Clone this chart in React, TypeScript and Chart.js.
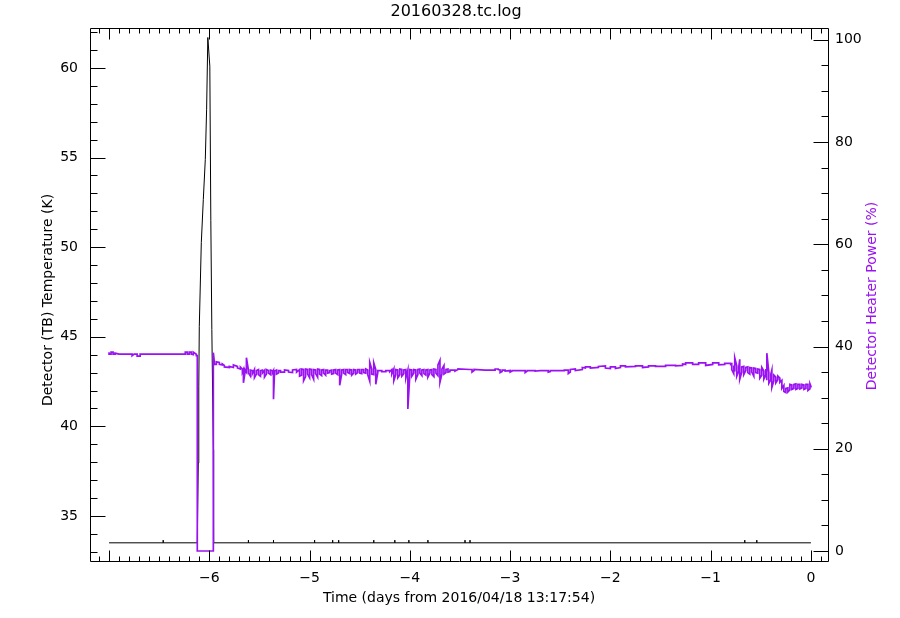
import React, { useEffect, useRef } from "react";
import { Chart, registerables } from "chart.js";

Chart.register(...registerables);

const titleText = "20160328.tc.log";
const xTitle = "Time (days from 2016/04/18 13:17:54)";
const yLeftTitle = "Detector (TB) Temperature (K)";
const yRightTitle = "Detector Heater Power (%)";

const xTickValues = [-6, -5, -4, -3, -2, -1, 0];
const xTickLabels = ["\u22126", "\u22125", "\u22124", "\u22123", "\u22122", "\u22121", "0"];
const leftTickValues = [35, 40, 45, 50, 55, 60];
const rightTickValues = [0, 20, 40, 60, 80, 100];

// Detector temperature (K), left axis
const tempDays = [
  -7.0, -6.46, -6.46, -6.46, -6.12, -6.11, -6.105, -6.1, -6.08, -6.06, -6.04, -6.027, -6.015,
  -5.995, -5.985, -5.975, -5.96, -5.96, -5.955, -5.61, -5.61, -5.61, -5.36, -5.36, -5.36,
  -4.95, -4.95, -4.95, -4.77, -4.77, -4.77, -4.71, -4.71, -4.71, -4.36, -4.36, -4.36,
  -4.15, -4.15, -4.15, -4.01, -4.01, -4.01, -3.82, -3.82, -3.82, -3.45, -3.45, -3.45,
  -3.4, -3.4, -3.4, -0.66, -0.66, -0.66, -0.54, -0.54, -0.54, 0.0,
];
const tempK = [
  33.5, 33.5, 33.65, 33.5, 33.5, 37.96, 42.2, 45.56, 50.25, 52.65, 54.9, 57.7, 61.7,
  60.1, 51.5, 45.4, 38.7, 34.2, 33.5, 33.5, 33.65, 33.5, 33.5, 33.65, 33.5,
  33.5, 33.65, 33.5, 33.5, 33.65, 33.5, 33.5, 33.65, 33.5, 33.5, 33.65, 33.5,
  33.5, 33.65, 33.5, 33.5, 33.65, 33.5, 33.5, 33.65, 33.5, 33.5, 33.65, 33.5,
  33.5, 33.65, 33.5, 33.5, 33.65, 33.5, 33.5, 33.65, 33.5, 33.5,
];

// Detector heater power (%), right axis: per-sample day, min and max
const powerDays = [
  -7.0, -6.98, -6.96, -6.94, -6.9, -6.8, -6.77, -6.75, -6.72, -6.69, -6.67, -6.4, -6.25, -6.24,
  -6.22, -6.2, -6.18, -6.16, -6.13, -6.12, -5.96, -5.95, -5.93, -5.9, -5.87, -5.85, -5.8,
  -5.76, -5.72, -5.69, -5.67, -5.66, -5.645, -5.63, -5.61, -5.59, -5.57, -5.55, -5.53, -5.51,
  -5.49, -5.47, -5.45, -5.43, -5.41, -5.39, -5.37, -5.36, -5.35, -5.33, -5.31, -5.29, -5.25,
  -5.21, -5.17, -5.13, -5.1, -5.08, -5.06, -5.04, -5.02, -5.0, -4.98, -4.96, -4.94, -4.92,
  -4.9, -4.88, -4.86, -4.84, -4.82, -4.8, -4.78, -4.76, -4.74, -4.72, -4.7, -4.68, -4.66,
  -4.64, -4.62, -4.6, -4.58, -4.56, -4.54, -4.52, -4.5, -4.48, -4.46, -4.44, -4.42, -4.4,
  -4.38, -4.36, -4.34, -4.32, -4.28, -4.24, -4.2, -4.18, -4.16, -4.14, -4.12, -4.1, -4.08,
  -4.06, -4.04, -4.02, -4.0, -3.98, -3.96, -3.94, -3.92, -3.9, -3.88, -3.86, -3.84, -3.82,
  -3.8, -3.78, -3.76, -3.74, -3.72, -3.7, -3.68, -3.66, -3.64, -3.62, -3.6, -3.55, -3.52,
  -3.4, -3.38, -3.36, -3.25, -3.15, -3.12, -3.1, -3.08, -3.05, -3.0, -2.98, -2.9, -2.85,
  -2.83, -2.75, -2.7, -2.62, -2.6, -2.55, -2.46, -2.42, -2.4, -2.35, -2.28, -2.25, -2.2,
  -2.12, -2.05, -2.0, -1.95, -1.9, -1.85, -1.75, -1.68, -1.62, -1.55, -1.45, -1.35, -1.28,
  -1.25, -1.18, -1.12, -1.05, -0.98, -0.92, -0.86, -0.8, -0.79, -0.77, -0.76, -0.74, -0.72,
  -0.71, -0.69, -0.67, -0.65, -0.63, -0.61, -0.59, -0.57, -0.55, -0.53, -0.51, -0.49, -0.47,
  -0.45, -0.44, -0.42, -0.4, -0.39, -0.37, -0.35, -0.33, -0.31, -0.29, -0.27, -0.25, -0.23,
  -0.21, -0.19, -0.17, -0.15, -0.13, -0.11, -0.09, -0.07, -0.05, -0.03, -0.01, 0.0,
];
const powerLow = [
  38.5, 38.5, 38.5, 38.5, 38.5, 38.5, 38.2, 38.5, 38.1, 38.1, 38.5, 38.5, 38.5, 38.5,
  38.5, 38.5, 38.5, 38.4, 38.2, 0, 0, 36.5, 36.5, 36.5, 36.4, 36.0, 35.9,
  35.9, 35.8, 35.6, 35.0, 32.9, 34.8, 35.0, 34.8, 34.2, 34.7, 33.9, 34.6, 34.5,
  34.2, 34.8, 34.0, 34.6, 34.8, 34.5, 34.9, 29.7, 34.8, 34.6, 34.8, 35.0, 35.0,
  35.0, 34.9, 35.0, 34.2, 34.4, 33.3, 34.1, 34.6, 33.9, 34.5, 33.6, 34.7, 34.0,
  34.6, 34.3, 34.8, 34.4, 34.8, 34.9, 34.6, 34.7, 34.8, 34.5, 32.4, 34.6, 34.8,
  34.5, 34.9, 34.7, 34.4, 34.8, 34.6, 34.9, 34.8, 34.7, 34.9, 34.8, 34.5, 33.2,
  34.6, 34.5, 32.6, 34.9, 35.1, 35.1, 35.1, 34.6, 33.3, 34.5, 33.9, 34.5, 34.2,
  34.7, 33.8, 27.8, 34.6, 34.2, 34.8, 33.6, 34.5, 34.8, 34.3, 34.7, 34.4, 34.0,
  34.8, 34.5, 34.1, 34.8, 34.3, 33.0, 34.7, 34.6, 34.9, 35.0, 35.1, 35.2, 35.5,
  35.5, 35.0, 35.3, 35.4, 35.4, 35.5, 34.9, 35.1, 35.2, 35.0, 35.2, 35.3, 34.9,
  35.2, 35.2, 35.3, 35.0, 35.1, 35.3, 35.3, 34.7, 35.0, 35.3, 35.5, 35.8, 35.8,
  35.9, 35.8, 35.7, 35.7, 35.9, 36.0, 36.1, 35.9, 36.0, 36.1, 36.1, 36.2, 36.3,
  36.5, 36.5, 36.5, 36.3, 36.5, 36.4, 36.5, 36.5, 35.5, 34.7, 35.1, 34.2, 35.2,
  33.6, 35.0, 34.5, 35.3, 34.9, 34.6, 35.0, 34.2, 34.9, 34.8, 33.8, 34.4, 33.6,
  34.5, 33.4, 32.8, 33.5, 32.0, 33.3, 32.9, 33.5, 33.0, 31.8, 31.2, 31.0, 31.1,
  31.5, 31.6, 31.8, 31.6, 31.8, 31.7, 31.9, 31.6, 31.8, 31.4, 31.7, 32.0,
];
const powerHigh = [
  38.9, 38.9, 38.9, 38.7, 38.5, 38.5, 38.5, 38.5, 38.5, 38.5, 38.5, 38.5, 38.5, 38.9,
  38.9, 38.9, 38.9, 38.9, 38.5, 38.2, 38.8, 37.0, 37.0, 36.9, 36.6, 36.3, 36.1,
  36.4, 36.1, 36.0, 35.6, 35.5, 35.5, 37.8, 35.4, 35.4, 35.3, 35.5, 35.3, 35.5,
  35.3, 35.4, 35.3, 35.5, 35.3, 35.4, 35.3, 35.3, 35.2, 35.4, 35.3, 35.3, 35.4,
  35.3, 35.4, 35.5, 35.5, 35.6, 35.5, 35.6, 35.5, 35.6, 35.5, 35.5, 35.4, 35.6,
  35.5, 35.4, 35.5, 35.4, 35.4, 35.3, 35.4, 35.4, 35.5, 35.4, 35.5, 35.4, 35.5,
  35.5, 35.5, 35.5, 35.4, 35.5, 35.4, 35.5, 35.5, 35.5, 35.5, 35.6, 35.4, 36.9,
  35.6, 36.8, 35.5, 35.3, 35.3, 35.3, 35.3, 35.5, 35.6, 35.5, 35.4, 35.6, 35.5,
  35.4, 35.5, 35.4, 35.5, 35.4, 35.5, 35.4, 35.5, 35.6, 35.4, 35.5, 35.4, 35.5,
  35.4, 35.5, 35.6, 35.5, 36.4, 37.3, 35.6, 36.3, 35.5, 35.6, 35.4, 35.4, 35.6,
  35.5, 35.5, 35.5, 35.4, 35.6, 35.6, 35.4, 35.4, 35.4, 35.3, 35.3, 35.3, 35.3,
  35.3, 35.3, 35.3, 35.3, 35.3, 35.3, 35.4, 35.4, 35.5, 35.6, 35.9, 36.0, 36.0,
  36.1, 36.2, 36.0, 36.0, 36.2, 36.2, 36.2, 36.2, 36.2, 36.2, 36.3, 36.3, 36.6,
  36.8, 36.8, 36.8, 36.8, 36.8, 36.8, 36.7, 36.7, 36.6, 36.3, 37.8, 36.2, 36.0,
  37.5, 36.0, 36.1, 35.9, 36.0, 35.9, 35.8, 35.8, 35.7, 35.6, 35.5, 35.9, 35.2,
  35.6, 38.7, 34.9, 34.6, 35.4, 34.4, 34.0, 34.2, 33.8, 33.4, 32.4, 31.8, 31.9,
  32.6, 32.5, 32.6, 32.7, 32.6, 32.6, 32.6, 32.5, 32.6, 32.6, 32.7, 32.2,
];

const PURPLE = "#9a12f2";
const FONT = "'DejaVu Sans', sans-serif";

function buildPowerPoints() {
  const pts: { x: number; y: number }[] = [];
  let prev = powerHigh[0];
  for (let i = 0; i < powerDays.length; i++) {
    const d = powerDays[i];
    const lo = powerLow[i];
    const hi = powerHigh[i];
    if (lo === hi) {
      pts.push({ x: d, y: lo });
      prev = lo;
    } else if (Math.abs(prev - hi) < Math.abs(prev - lo)) {
      pts.push({ x: d, y: hi }, { x: d, y: lo });
      prev = lo;
    } else {
      pts.push({ x: d, y: lo }, { x: d, y: hi });
      prev = hi;
    }
  }
  return pts;
}

const framePlugin = {
  id: "idlFrame",
  afterDraw(chart: any) {
    const { ctx, chartArea: a, scales } = chart;
    const sx = scales.x;
    const yl = scales.y;
    const yr = scales.y1;
    const L = Math.round(a.left) + 0.5;
    const R = Math.round(a.right) - 0.5;
    const T = Math.round(a.top) + 0.5;
    const B = Math.round(a.bottom) - 0.5;
    ctx.save();
    ctx.strokeStyle = "#000";
    ctx.lineWidth = 1;
    ctx.beginPath();
    ctx.rect(L, T, R - L, B - T);
    for (let i = -71; i <= 1; i++) {
      const v = i / 10;
      const major = i % 10 === 0;
      const len = major ? 11 : 5;
      const px = Math.round(sx.getPixelForValue(v)) + 0.5;
      if (px < L || px > R) continue;
      ctx.moveTo(px, B);
      ctx.lineTo(px, B - len);
      ctx.moveTo(px, T);
      ctx.lineTo(px, T + len);
    }
    for (let v = 33; v <= 62; v++) {
      const major = v % 5 === 0;
      const len = major ? 15 : 7;
      const py = Math.round(yl.getPixelForValue(v)) + 0.5;
      if (py < T || py > B) continue;
      ctx.moveTo(L, py);
      ctx.lineTo(L + len, py);
    }
    for (let v = 0; v <= 100; v += 5) {
      const major = v % 20 === 0;
      const len = major ? 15 : 7;
      const py = Math.round(yr.getPixelForValue(v)) + 0.5;
      ctx.moveTo(R, py);
      ctx.lineTo(R - len, py);
    }
    ctx.stroke();

    ctx.fillStyle = "#000";
    ctx.textAlign = "center";
    ctx.textBaseline = "middle";
    ctx.font = `16px ${FONT}`;
    ctx.fillText(titleText, 456, 12);
    ctx.font = `14px ${FONT}`;
    ctx.fillText(xTitle, 459, 598);

    ctx.save();
    ctx.translate(48, 300);
    ctx.rotate(-Math.PI / 2);
    ctx.fillText(yLeftTitle, 0, 0);
    ctx.restore();

    ctx.save();
    ctx.translate(872, 296);
    ctx.rotate(-Math.PI / 2);
    ctx.fillStyle = PURPLE;
    ctx.fillText(yRightTitle, 0, 0);
    ctx.restore();

    ctx.restore();
  },
};

export default function App() {
  const canvasRef = useRef<HTMLCanvasElement | null>(null);

  useEffect(() => {
    const canvas = canvasRef.current;
    if (!canvas) return;
    const tickFont = { family: FONT, size: 14 };
    const chart = new Chart(canvas, {
      type: "line",
      data: {
        datasets: [
          {
            label: "Heater Power",
            data: buildPowerPoints(),
            yAxisID: "y1",
            xAxisID: "x",
            borderColor: PURPLE,
            borderWidth: 1.7,
            pointRadius: 0,
            tension: 0,
            fill: false,
          },
          {
            label: "Temperature",
            data: tempDays.map((d, i) => ({ x: d, y: tempK[i] })),
            yAxisID: "y",
            xAxisID: "x",
            borderColor: "#000",
            borderWidth: 1,
            pointRadius: 0,
            tension: 0,
            fill: false,
          },
        ],
      },
      options: {
        responsive: false,
        animation: false,
        devicePixelRatio: 1,
        layout: { padding: { top: 28, left: 0, right: 0, bottom: 0 } },
        plugins: {
          legend: { display: false },
          tooltip: { enabled: false },
          title: { display: false },
        },
        scales: {
          x: {
            type: "linear",
            min: -7.19,
            max: 0.18,
            grid: { display: false, drawTicks: false },
            border: { display: false },
            afterBuildTicks: (s: any) => {
              s.ticks = xTickValues.map((v) => ({ value: v }));
            },
            afterFit: (s: any) => {
              s.height = 56;
            },
            ticks: {
              color: "#000",
              font: tickFont,
              padding: 8,
              maxRotation: 0,
              autoSkip: false,
              callback: (v: any) => {
                const idx = xTickValues.indexOf(Number(v));
                return idx >= 0 ? xTickLabels[idx] : "";
              },
            },
          },
          y: {
            type: "linear",
            position: "left",
            min: 32.43,
            max: 62.23,
            grid: { display: false, drawTicks: false },
            border: { display: false },
            afterBuildTicks: (s: any) => {
              s.ticks = leftTickValues.map((v) => ({ value: v }));
            },
            afterFit: (s: any) => {
              s.width = 90;
            },
            ticks: { color: "#000", font: tickFont, padding: 12 },
          },
          y1: {
            type: "linear",
            position: "right",
            min: -2.15,
            max: 102.3,
            grid: { display: false, drawTicks: false },
            border: { display: false },
            afterBuildTicks: (s: any) => {
              s.ticks = rightTickValues.map((v) => ({ value: v }));
            },
            afterFit: (s: any) => {
              s.width = 71;
            },
            ticks: { color: "#000", font: tickFont, padding: 6 },
          },
        },
      },
      plugins: [framePlugin],
    });
    return () => chart.destroy();
  }, []);

  return (
    <div style={{ position: "absolute", left: 0, top: 0, width: 900, height: 618, background: "#fff" }}>
      <canvas ref={canvasRef} width={900} height={618} style={{ width: 900, height: 618 }} />
    </div>
  );
}
